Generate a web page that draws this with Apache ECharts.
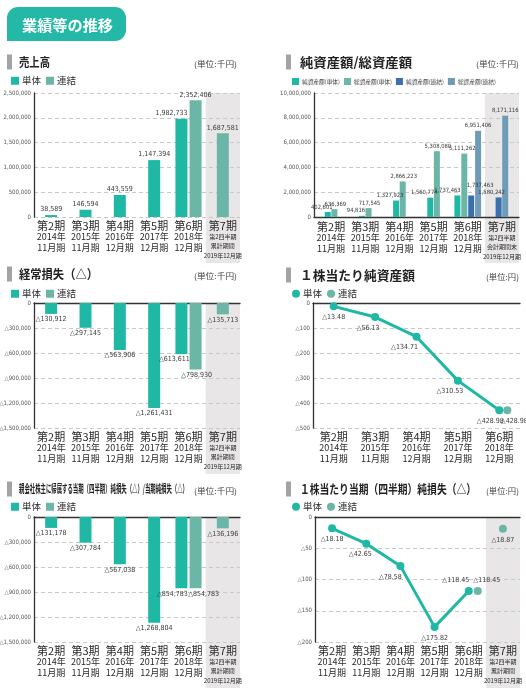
<!DOCTYPE html>
<html><head><meta charset="utf-8">
<script src="https://cdn.jsdelivr.net/npm/echarts@6.0.0/dist/echarts.min.js"></script>
<style>html,body{margin:0;padding:0;background:#fff}#c{width:526px;height:694px}</style>
</head><body><div id="c"></div>
<script>
// ---------- data ----------
const periods = ['第2期','第3期','第4期','第5期','第6期','第7期'];
const fiscalYears = ['2014年','2015年','2016年','2017年','2018年'];
const fiscalMonths = ['11月期','11月期','12月期','12月期','12月期'];
const q7Cumulative = ['第2四半期','累計期間','2019年12月期'];
const q7PeriodEnd = ['第2四半期','会計期間末','2019年12月期'];

const salesSingle = [38589,146594,443559,1147394,1982733,null];
const salesConsol = [null,null,null,null,2352406,1687581];

const netAssetsSingle = [402601,94816,1327923,1560774,1737463,null];
const totalAssetsSingle = [636369,717545,2866223,5308080,5111262,null];
const netAssetsConsol = [null,null,null,null,1737463,1580242];
const totalAssetsConsol = [null,null,null,null,6951406,8171116];

const ordLossSingle = [-130912,-297145,-563906,-1261431,-613611,null];
const ordLossConsol = [null,null,null,null,-798930,-135713];

const bpsSingle = [-13.48,-56.13,-134.71,-310.53,-428.98];
const bpsConsol = [null,null,null,null,-428.98];

const netLossSingle = [-131178,-307784,-567038,-1268804,-854783,null];
const netLossConsol = [null,null,null,null,-854783,-136196];

const epsSingle = [-18.18,-42.65,-78.58,-175.82,-118.45,null];
const epsConsol = [null,null,null,null,-118.45,-18.87];

const salesAxis = {min:0, max:2500000, interval:500000};
const assetsAxis = {min:0, max:10000000, interval:2000000};
const lossAxis = {min:-1500000, max:0, interval:300000};
const bpsAxis = {min:-500, max:0, interval:100};
const epsAxis = {min:-200, max:0, interval:50};

// ---------- style ----------
const FONT_CJK = "'Noto Sans CJK JP', sans-serif";
const FONT_NUM = "'Liberation Sans Narrow', 'DejaVu Sans Condensed', 'Noto Sans CJK JP', sans-serif";
const TEAL = '#1fb8a4', TEAL2 = '#6cb6a7', BLUE = '#3b70b0', STEEL = '#6e9cb7';
const TXT = '#2a2a2a';

function fmt(v, dec) {
  if (v == null) return '';
  if (v === 0) return '0';
  const a = Math.abs(v);
  const s = dec ? a.toFixed(dec) : a.toLocaleString('en-US');
  return (v < 0 ? '△' : '') + s;
}
const RICH = {
  a:{fontSize:11, lineHeight:11.5, fontFamily:FONT_CJK, color:TXT},
  b:{fontSize:9, lineHeight:10.5, fontFamily:FONT_CJK, color:TXT},
  c:{fontSize:6, lineHeight:9.8, fontFamily:FONT_CJK, color:TXT}
};
function xLabel(v, i, q7) {
  if (i < fiscalYears.length) return `{a|${v}}\n{b|${fiscalYears[i]}}\n{b|${fiscalMonths[i]}}`;
  return `{a|${v}}\n` + q7.map(s => `{c|${s}}`).join('\n');
}

const panels = [
  {kind:'bar', rect:{left:34, top:93, width:206, height:124}, cats:periods, axis:salesAxis, q7:q7Cumulative,
   topLine:false, bottomLine:false, shade:true, labelPos:'top', labelSize:7, barWidth:12, barGap:'18%', margin:3,
   series:[{name:'単体', data:salesSingle, color:TEAL, slot:'a', offA:[0,0], offB:[-10,0]},
           {name:'連結', data:salesConsol, color:TEAL2, slot:'a', offA:[0,0], offB:[0,0]}]},
  {kind:'bar', rect:{left:314, top:93, width:205, height:124}, cats:periods, axis:assetsAxis, q7:q7PeriodEnd,
   topLine:false, bottomLine:true, shade:true, labelPos:'top', labelSize:5.8, barWidth:6, barGap:'15%', margin:4,
   series:[{name:'純資産額(単体)', data:netAssetsSingle, color:TEAL, slot:'n', offA:[-6,0], offB:[-10,0]},
           {name:'総資産額(単体)', data:totalAssetsSingle, color:TEAL2, slot:'t', offA:[1,0], offB:[-2,0]},
           {name:'純資産額(連結)', data:netAssetsConsol, color:BLUE, slot:'n', offA:[-7,0], offB:[9,-5]},
           {name:'総資産額(連結)', data:totalAssetsConsol, color:STEEL, slot:'t', offA:[0,0], offB:[0,0]}]},
  {kind:'bar', rect:{left:34, top:303, width:206, height:125}, cats:periods, axis:lossAxis, q7:q7Cumulative,
   topLine:true, bottomLine:false, shade:true, labelPos:'bottom', labelSize:7, barWidth:12, barGap:'18%', margin:3,
   series:[{name:'単体', data:ordLossSingle, color:TEAL, slot:'a', offA:[0,0], offB:[-7,0]},
           {name:'連結', data:ordLossConsol, color:TEAL2, slot:'a', offA:[0,0], offB:[1,0]}]},
  {kind:'line', rect:{left:313, top:303, width:207, height:125}, cats:periods.slice(0,5), axis:bpsAxis, q7:q7Cumulative,
   topLine:true, bottomLine:false, shade:false, margin:3,
   line:{name:'単体', data:bpsSingle, color:TEAL, pos:['bottom','bottom','bottom','bottom','bottom'], off:[[0,0],[-7,0],[-12,0],[-8,0],[-9,0]]},
   dots:{name:'連結', data:bpsConsol, color:TEAL2, shift:[null,null,null,null,[8,0]], pos:[null,null,null,null,'bottom'], off:[null,null,null,null,[7,0]]}},
  {kind:'bar', rect:{left:34, top:517, width:206, height:125}, cats:periods, axis:lossAxis, q7:q7Cumulative,
   topLine:true, bottomLine:false, shade:true, labelPos:'bottom', labelSize:7, barWidth:12, barGap:'18%', margin:3,
   series:[{name:'単体', data:netLossSingle, color:TEAL, slot:'a', offA:[0,0], offB:[-9,0]},
           {name:'連結', data:netLossConsol, color:TEAL2, slot:'a', offA:[0,0], offB:[8,0]}]},
  {kind:'line', rect:{left:315, top:517, width:205, height:125}, cats:periods, axis:epsAxis, q7:q7Cumulative,
   topLine:true, bottomLine:false, shade:true, margin:3,
   line:{name:'単体', data:epsSingle, color:TEAL, pos:['bottom','bottom','bottom','bottom','top',null], off:[[0,0],[-6,0],[-10,0],[0,0],[-13,0],null]},
   dots:{name:'連結', data:epsConsol, color:TEAL2, shift:[null,null,null,null,[9,0],[0,0]], pos:[null,null,null,null,'top','bottom'], off:[null,null,null,null,[9,0],[0,0]]}}
];

const labelBase = {show:true, fontFamily:FONT_NUM, fontSize:7, color:'#3a3a3a'};
const opt = {animation:false, grid:[], xAxis:[], yAxis:[], series:[], legend:[]};

panels.forEach(p => {
  const gi = opt.grid.length;
  opt.grid.push(Object.assign({containLabel:false, outerBoundsMode:'none'}, p.rect));
  const xa = opt.xAxis.length;
  p._xa = xa;
  opt.xAxis.push({type:'category', gridIndex:gi, data:p.cats, position:'bottom',
    axisLine:{show:p.bottomLine, onZero:false, lineStyle:{color:'#333', width:1.3}},
    axisTick:{show:false}, splitLine:{show:false},
    axisLabel:{interval:0, margin:p.margin, hideOverlap:false, formatter:(v,i)=>xLabel(v,i,p.q7), rich:RICH}});
  const xb = opt.xAxis.length;
  opt.xAxis.push({type:'category', gridIndex:gi, data:p.cats, position:'top',
    axisLine:{show:p.topLine, onZero:false, lineStyle:{color:'#333', width:1.3}},
    axisTick:{show:false}, axisLabel:{show:false}, splitLine:{show:false}});
  const ya = opt.yAxis.length;
  opt.yAxis.push({type:'value', gridIndex:gi, min:p.axis.min, max:p.axis.max, interval:p.axis.interval,
    axisLine:{show:true, lineStyle:{color:'#333', width:1.3}}, axisTick:{show:false},
    splitLine:{show:true, lineStyle:{color:'#c8c8c8', type:[4,3], width:1}},
    axisLabel:{margin:3, fontSize:6, color:'#555', fontFamily:FONT_NUM, formatter:v=>fmt(v,0)}});

  if (p.kind === 'bar') {
    const full = p.cats.map((_, i) => p.series.every(s => s.data[i] != null));
    const lb = Object.assign({}, labelBase, {fontSize:p.labelSize});
    p.series.forEach(s => {
      const common = {type:'bar', name:s.name, yAxisIndex:ya, barWidth:p.barWidth, itemStyle:{color:s.color}};
      opt.series.push(Object.assign({}, common, {xAxisIndex:xa, stack:'g'+gi+s.slot,
        data:s.data.map((v,i)=>full[i]?null:v),
        label:Object.assign({}, lb, {position:p.labelPos, distance:2, offset:s.offA, formatter:d=>fmt(d.value,0)})}));
      opt.series.push(Object.assign({}, common, {xAxisIndex:xb, barGap:p.barGap,
        data:s.data.map((v,i)=>full[i]?v:null),
        label:Object.assign({}, lb, {position:p.labelPos, distance:2, offset:s.offB, formatter:d=>fmt(d.value,0)})}));
    });
  } else {
    const L = p.line, D = p.dots;
    opt.series.push({type:'line', name:L.name, xAxisIndex:xa, yAxisIndex:ya, symbol:'circle', symbolSize:8,
      lineStyle:{width:3, color:L.color}, itemStyle:{color:L.color},
      label:Object.assign({}, labelBase, {distance:3.5, formatter:d=>fmt(d.value,2)}),
      data:L.data.map((v,i)=> v==null ? {value:null} : {value:v, label:{position:L.pos[i], offset:L.off[i]}})});
    opt.series.push({type:'scatter', name:D.name, xAxisIndex:xa, yAxisIndex:ya, symbol:'circle', symbolSize:8,
      itemStyle:{color:D.color, opacity:1},
      label:Object.assign({}, labelBase, {distance:3.5, formatter:d=>fmt(d.value,2)}),
      data:D.data.map((v,i)=> v==null ? {value:null} : {value:v, symbolOffset:D.shift[i], label:{position:D.pos[i], offset:D.off[i]}})});
  }
});

// legends
const sqLegend = (left, top, names) => ({left, top, orient:'horizontal', itemWidth:8, itemHeight:8, itemGap:5, padding:0,
  selectedMode:false, data:names.map(n=>({name:n, icon:'rect'})),
  textStyle:{fontSize:9.5, color:TXT, fontFamily:FONT_CJK, padding:[0,0,0,-2]}});
const dotLegend = (left, top, names) => ({left, top, orient:'horizontal', itemWidth:8, itemHeight:8, itemGap:5, padding:0,
  selectedMode:false, data:names.map(n=>({name:n, icon:'circle'})),
  textStyle:{fontSize:9.5, color:TXT, fontFamily:FONT_CJK, padding:[0,0,0,-2]}});
opt.legend.push(sqLegend(11, 76, ['単体','連結']));
opt.legend.push({left:292, top:78, orient:'horizontal', itemWidth:7, itemHeight:7, itemGap:4, padding:0, selectedMode:false,
  data:['純資産額(単体)','総資産額(単体)','純資産額(連結)','総資産額(連結)'].map(n=>({name:n, icon:'rect'})),
  textStyle:{fontSize:5.7, color:'#444', fontFamily:FONT_CJK, padding:[0,0,0,-2]}});
opt.legend.push(sqLegend(11, 289, ['単体','連結']));
opt.legend.push(dotLegend(292, 289, ['単体','連結']));
opt.legend.push(sqLegend(11, 502, ['単体','連結']));
opt.legend.push(dotLegend(292, 502, ['単体','連結']));

const chart = echarts.init(document.getElementById('c'), null, {renderer:'canvas'});
chart.setOption(opt);

// ---------- decorations ----------
const mctx = document.createElement('canvas').getContext('2d');
function fitText(text, x, y, size, weight, target, align, color) {
  const font = `${weight} ${size}px ${FONT_CJK}`;
  mctx.font = font;
  const w = mctx.measureText(text).width || 1;
  const a = align || 'left';
  return {type:'text', x, y, scaleX: target ? target / w : 1, z:10,
    style:{text, font, fill:color || '#222', textAlign:a, align:a, textVerticalAlign:'middle', verticalAlign:'middle'}};
}
const graphics = [];
graphics.push({type:'rect', shape:{x:7, y:7, width:119, height:34, r:[11,11,11,0]}, style:{fill:'#23b9a6'}});
graphics.push(fitText('業績等の推移', 22, 25, 15, 'bold', 91, 'left', '#ffffff'));
const titles = [
  {t:'売上高', x:19, y:62, s:12, w:31, u:'(単位:千円)', uw:43, ux:237, side:7},
  {t:'純資産額/総資産額', x:300, y:62, s:13, w:112, u:'(単位:千円)', uw:43, ux:519, side:286},
  {t:'経常損失（△）', x:19, y:274, s:12.5, w:79, u:'(単位:千円)', uw:43, ux:237, side:7},
  {t:'１株当たり純資産額', x:300, y:275, s:13, w:115, u:'(単位:円)', uw:33, ux:519, side:286},
  {t:'親会社株主に帰属する当期（四半期）純損失（△）/当期純損失（△）', x:19, y:489, s:11, w:169, u:'(単位:千円)', uw:43, ux:237, side:7},
  {t:'１株当たり当期（四半期）純損失（△）', x:300, y:489, s:12.5, w:176, u:'(単位:円)', uw:33, ux:519, side:286}
];
titles.forEach(t => {
  graphics.push({type:'rect', shape:{x:t.side, y:t.y-7.5, width:5, height:15}, style:{fill:'#a3a3a3'}});
  graphics.push(fitText(t.t, t.x, t.y, t.s, 'bold', t.w, 'left', '#222'));
  graphics.push(fitText(t.u, t.ux, t.y+2, 8, 'normal', t.uw, 'right', '#444'));
});
panels.forEach(p => {
  if (!p.shade) return;
  const n = p.cats.length;
  const c = chart.convertToPixel({xAxisIndex:p._xa}, p.cats[n-1]);
  const band = p.rect.width / n;
  graphics.push({type:'rect', z:-1, shape:{x:c-band/2, y:p.rect.top, width:band, height:p.rect.height+46},
    style:{fill:'#e8e6e6'}});
});
chart.setOption({graphic:graphics});
</script></body></html>
